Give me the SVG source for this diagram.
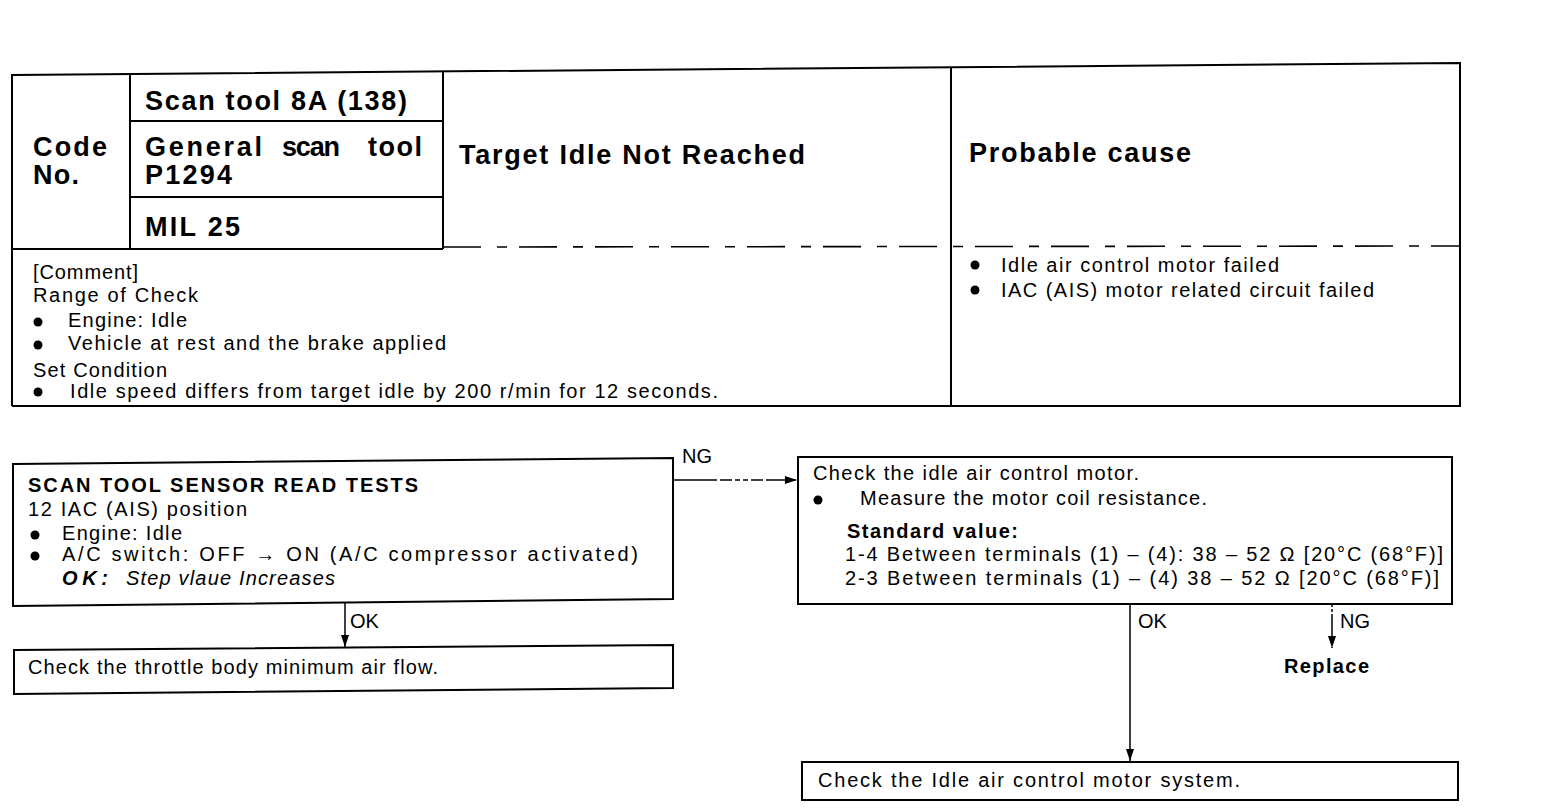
<svg xmlns="http://www.w3.org/2000/svg" width="1568" height="808" viewBox="0 0 1568 808">
<style>
.t{font-family:"Liberation Sans",Arial,Helvetica,sans-serif;font-size:20px;fill:#000}
.b{font-weight:bold}
.h{font-size:27px;font-weight:bold}
.i{font-style:italic}
.ln{stroke:#000;stroke-width:2;fill:none}
.dl{stroke:#000;stroke-width:1.6;fill:none;stroke-dasharray:38 16 10 12}
.box{stroke:#000;stroke-width:2;fill:#fff}
.cn{stroke:#000;stroke-width:1.5;fill:none}
</style>
<defs>
<marker id="arr" viewBox="0 0 12 10" refX="12" refY="5" markerWidth="12" markerHeight="10" markerUnits="userSpaceOnUse" orient="auto">
<path d="M0,1 L12,5 L0,9 z" fill="#000"/>
</marker>
</defs>
<rect width="1568" height="808" fill="#fff"/>

<g id="table">
<polyline class="ln" points="12,406 12,75 1460,63 1460,406 12,406"/>
<line class="ln" x1="130" y1="74" x2="130" y2="249"/>
<line class="ln" x1="443" y1="71.4" x2="443" y2="249"/>
<line class="ln" x1="951" y1="67.2" x2="951" y2="406"/>
<line class="ln" x1="130" y1="121" x2="443" y2="121"/>
<line class="ln" x1="130" y1="197" x2="443" y2="197"/>
<line class="ln" x1="12" y1="249" x2="443" y2="249"/>
<line class="dl" x1="443" y1="247" x2="1460" y2="246"/>
</g>

<g id="code-cell">
<text class="t h" x="33" y="156" textLength="74" lengthAdjust="spacing">Code</text>
<text class="t h" x="33" y="184" textLength="46" lengthAdjust="spacing">No.</text>
</g>
<g id="scan-tool-cell">
<text class="t h" x="145" y="110" textLength="262" lengthAdjust="spacing">Scan tool 8A (138)</text>
</g>
<g id="general-scan-cell">
<text class="t h" x="145" y="156" textLength="117" lengthAdjust="spacing">General</text>
<text class="t h" x="282" y="156" textLength="58" lengthAdjust="spacing">scan</text>
<text class="t h" x="368" y="156" textLength="54" lengthAdjust="spacing">tool</text>
<text class="t h" x="145" y="184" textLength="87" lengthAdjust="spacing">P1294</text>
</g>
<g id="mil-cell">
<text class="t h" x="145" y="236" textLength="95" lengthAdjust="spacing">MIL 25</text>
</g>
<g id="title-cell">
<text class="t h" x="459" y="164" textLength="346" lengthAdjust="spacing">Target Idle Not Reached</text>
</g>
<g id="cause-title-cell">
<text class="t h" x="969" y="162" textLength="222" lengthAdjust="spacing">Probable cause</text>
</g>
<g id="cause-list">
<circle cx="975" cy="265" r="4.5"/>
<text class="t" x="1001" y="272" textLength="278" lengthAdjust="spacing">Idle air control motor failed</text>
<circle cx="975" cy="290" r="4.5"/>
<text class="t" x="1001" y="297" textLength="373" lengthAdjust="spacing">IAC (AIS) motor related circuit failed</text>
</g>
<g id="comment">
<text class="t" x="33" y="279" textLength="105" lengthAdjust="spacing">[Comment]</text>
<text class="t" x="33" y="302" textLength="165" lengthAdjust="spacing">Range of Check</text>
<circle cx="38" cy="322" r="4.5"/>
<text class="t" x="68" y="327" textLength="119" lengthAdjust="spacing">Engine: Idle</text>
<circle cx="38" cy="345" r="4.5"/>
<text class="t" x="68" y="350" textLength="378" lengthAdjust="spacing">Vehicle at rest and the brake applied</text>
<text class="t" x="33" y="377" textLength="134" lengthAdjust="spacing">Set Condition</text>
<circle cx="38" cy="392" r="4.5"/>
<text class="t" x="70" y="398" textLength="648" lengthAdjust="spacing">Idle speed differs from target idle by 200 r/min for 12 seconds.</text>
</g>

<g id="n1-scan-tool-tests">
<polygon class="box" points="13,464 673,458 673,599 13,606"/>
<text class="t b" x="28" y="492" textLength="390" lengthAdjust="spacing">SCAN TOOL SENSOR READ TESTS</text>
<text class="t" x="28" y="516" textLength="219" lengthAdjust="spacing">12 IAC (AIS) position</text>
<circle cx="35" cy="535" r="4.5"/>
<text class="t" x="62" y="540" textLength="120" lengthAdjust="spacing">Engine: Idle</text>
<circle cx="35" cy="556" r="4.5"/>
<text class="t" x="62" y="561" textLength="576" lengthAdjust="spacing">A/C switch: OFF → ON (A/C compressor activated)</text>
<text class="t b i" x="62" y="585" textLength="46" lengthAdjust="spacing">OK:</text>
<text class="t i" x="126" y="585" textLength="209" lengthAdjust="spacing">Step vlaue Increases</text>
</g>

<g id="n2-check-iac-motor">
<rect class="box" x="798" y="457" width="654" height="147"/>
<text class="t" x="813" y="480" textLength="326" lengthAdjust="spacing">Check the idle air control motor.</text>
<circle cx="818" cy="500" r="4.5"/>
<text class="t" x="860" y="505" textLength="347" lengthAdjust="spacing">Measure the motor coil resistance.</text>
<text class="t b" x="847" y="538" textLength="171" lengthAdjust="spacing">Standard value:</text>
<text class="t" x="845" y="561" textLength="598" lengthAdjust="spacing">1-4 Between terminals (1) – (4): 38 – 52 Ω [20°C (68°F)]</text>
<text class="t" x="845" y="585" textLength="594" lengthAdjust="spacing">2-3 Between terminals (1) – (4) 38 – 52 Ω [20°C (68°F)]</text>
</g>

<g id="n3-throttle-body">
<polygon class="box" points="14,650 673,645 673,688 14,694"/>
<text class="t" x="28" y="674" textLength="410" lengthAdjust="spacing">Check the throttle body minimum air flow.</text>
</g>

<g id="n4-iac-system">
<rect class="box" x="802" y="762" width="656" height="38"/>
<text class="t" x="818" y="787" textLength="422" lengthAdjust="spacing">Check the Idle air control motor system.</text>
</g>

<g id="n5-replace">
<text class="t b" x="1284" y="673" textLength="85" lengthAdjust="spacing">Replace</text>
</g>

<g id="connectors">
<line class="ln" x1="673" y1="458" x2="673" y2="480"/>
<path class="cn" d="M673,480 H797" stroke-dasharray="44 3 12 3 5 3 5 3 12 3 30" marker-end="url(#arr)"/>
<text class="t" x="682" y="463">NG</text>
<line class="cn" x1="345" y1="602" x2="345" y2="647" marker-end="url(#arr)"/>
<text class="t" x="350" y="628">OK</text>
<line class="cn" x1="1130" y1="604" x2="1130" y2="761" marker-end="url(#arr)"/>
<text class="t" x="1138" y="628">OK</text>
<line class="cn" x1="1332" y1="604" x2="1332" y2="648" stroke-dasharray="3 2 3 2 30" marker-end="url(#arr)"/>
<text class="t" x="1340" y="628">NG</text>
</g>
</svg>
